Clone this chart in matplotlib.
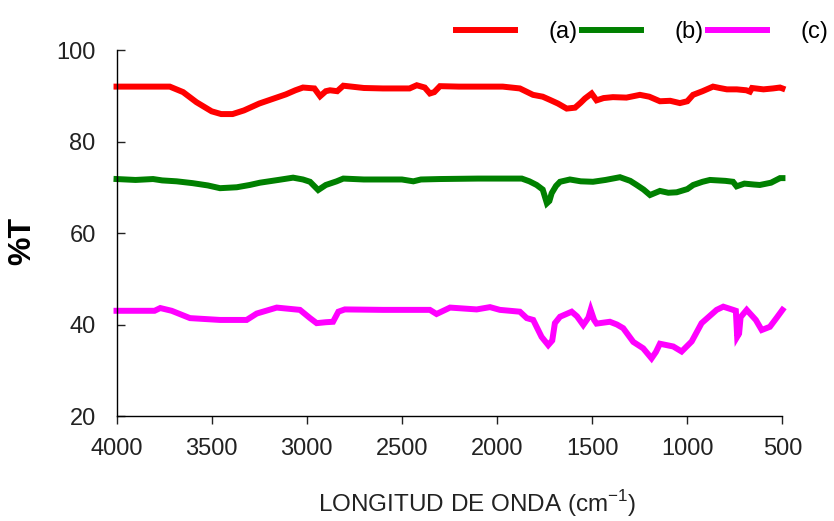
import matplotlib
matplotlib.use("Agg")
import matplotlib.pyplot as plt

plt.rcParams['font.family'] = ['Liberation Sans', 'DejaVu Sans']

### DATOS

# (a) rojo
wn_a = [4000, 3720, 3650, 3580, 3500, 3450, 3390, 3330, 3250, 3180, 3110, 3060,
        3020, 2960, 2930, 2900, 2878, 2840, 2808, 2700, 2600, 2460, 2422, 2380,
        2353, 2330, 2300, 2200, 2100, 1970, 1880, 1811, 1760, 1722, 1680, 1634,
        1590, 1560, 1538, 1503, 1477, 1440, 1391, 1320, 1249, 1200, 1144, 1090,
        1039, 1000, 970, 920, 865, 830, 792, 740, 690, 671, 660, 600, 550, 513, 500]
t_a = [92.0, 92.0, 90.8, 88.6, 86.6, 86.0, 86.0, 86.8, 88.3, 89.3, 90.3, 91.2,
       91.8, 91.6, 89.9, 91.0, 91.2, 91.0, 92.2, 91.7, 91.6, 91.6, 92.3, 91.8,
       90.5, 90.8, 92.1, 92.0, 92.0, 92.0, 91.6, 90.2, 89.8, 89.1, 88.3, 87.2,
       87.4, 88.5, 89.4, 90.5, 89.0, 89.5, 89.7, 89.6, 90.2, 89.8, 88.8, 88.9,
       88.4, 88.8, 90.2, 91.0, 92.0, 91.7, 91.4, 91.4, 91.2, 90.9, 91.7, 91.4,
       91.6, 91.8, 91.6]

# (b) verde
wn_b = [4000, 3900, 3808, 3760, 3684, 3600, 3520, 3456, 3368, 3300, 3246, 3150,
        3072, 3020, 2983, 2940, 2900, 2843, 2808, 2700, 2600, 2500, 2440, 2400,
        2300, 2100, 1870, 1830, 1792, 1760, 1738, 1725, 1713, 1690, 1669, 1617,
        1560, 1496, 1430, 1354, 1300, 1266, 1230, 1196, 1144, 1100, 1056, 1000,
        969, 920, 881, 800, 760, 741, 700, 650, 619, 560, 513, 500]
t_b = [71.8, 71.6, 71.8, 71.5, 71.3, 70.9, 70.4, 69.8, 70.0, 70.5, 71.0, 71.6,
       72.1, 71.7, 71.2, 69.4, 70.5, 71.3, 71.9, 71.7, 71.7, 71.7, 71.3, 71.7,
       71.8, 71.9, 71.9, 71.3, 70.5, 69.5, 66.5, 67.0, 68.7, 70.3, 71.2, 71.7,
       71.3, 71.2, 71.6, 72.2, 71.4, 70.5, 69.5, 68.3, 69.2, 68.8, 68.9, 69.6,
       70.5, 71.2, 71.6, 71.4, 71.2, 70.2, 70.8, 70.6, 70.5, 71.0, 72.0, 72.0]

# (c) magenta
wn_c = [4000, 3800, 3770, 3710, 3614, 3456, 3316, 3263, 3158, 3036, 2983, 2948,
        2900, 2862, 2834, 2800, 2600, 2353, 2318, 2247, 2107, 2037, 1985, 1932,
        1880, 1844, 1810, 1766, 1731, 1710, 1696, 1669, 1608, 1580, 1547, 1520,
        1508, 1490, 1477, 1407, 1370, 1337, 1284, 1232, 1188, 1165, 1144, 1074,
        1030, 977, 925, 846, 811, 759, 745, 738, 728, 720, 688, 640, 609, 566,
        530, 500]
t_c = [43.0, 43.0, 43.6, 43.0, 41.4, 41.0, 41.0, 42.4, 43.7, 43.2, 41.4, 40.3,
       40.5, 40.6, 42.8, 43.3, 43.2, 43.2, 42.3, 43.7, 43.3, 43.8, 43.2, 43.0,
       42.8, 41.4, 41.0, 37.3, 35.5, 36.5, 40.3, 41.7, 42.8, 41.8, 39.9, 41.5,
       43.2, 41.0, 40.2, 40.6, 40.0, 39.2, 36.2, 34.8, 32.6, 34.0, 35.8, 35.2,
       34.1, 36.3, 40.3, 43.2, 43.9, 43.2, 43.0, 37.3, 38.0, 41.6, 43.2, 41.0,
       38.8, 39.5, 41.5, 43.2]

etiquetas = ['(a)', '(b)', '(c)']
colores = ['#ff0000', '#008000', '#ff00ff']
x_ticks = [4000, 3500, 3000, 2500, 2000, 1500, 1000, 500]
y_ticks = [20, 40, 60, 80, 100]

### FIGURA

fig = plt.figure(figsize=(8.34, 5.21), dpi=100)
ax = fig.add_axes([0.1397, 0.2015, 0.7985, 0.7025])

series = [(wn_a, t_a), (wn_b, t_b), (wn_c, t_c)]
for (x, y), et, col in zip(series, etiquetas, colores):
    ax.plot(x, y, color=col, lw=4.3, label=et, clip_on=False,
            solid_joinstyle='miter')

ax.set_xlim(4000, 500)
ax.set_ylim(20, 100)
ax.set_xticks(x_ticks)
ax.set_yticks(y_ticks)

for s in ['top', 'right']:
    ax.spines[s].set_visible(False)
for s in ['left', 'bottom']:
    ax.spines[s].set_linewidth(1.0)

ax.tick_params(axis='x', direction='out', length=6, width=1, pad=10,
               labelsize=17, colors='#222222')
ax.tick_params(axis='y', direction='in', length=6, width=1, pad=15,
               labelsize=17, colors='#222222')

ax.set_ylabel('%T', fontsize=23, fontweight='bold')
ax.yaxis.set_label_coords(-0.119, 0.478)
ax.set_xlabel('LONGITUD DE ONDA (cm$^{\\mathregular{-1}}$)', fontsize=17.5,
              color='#222222')
ax.xaxis.set_label_coords(0.541, -0.196)

ax.legend(loc='center', bbox_to_anchor=(0.770, 0.938),
          bbox_transform=fig.transFigure, ncol=3, frameon=False,
          fontsize=17, handlelength=2.5, handletextpad=1.4,
          columnspacing=0.2, borderpad=0)

fig.savefig('out.png', dpi=100)
